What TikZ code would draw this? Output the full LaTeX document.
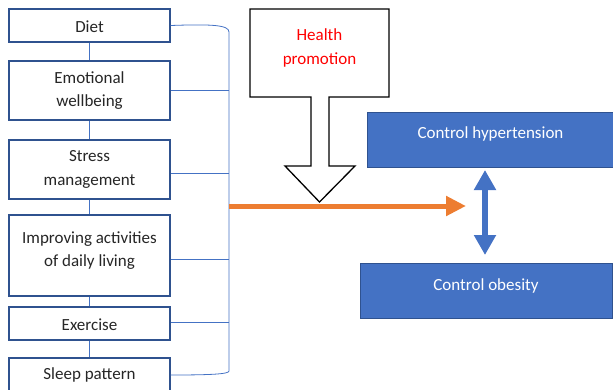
\documentclass[tikz,border=0pt]{standalone}
\usepackage{fontspec}
\setmainfont{Carlito}
\usetikzlibrary{arrows.meta}
\definecolor{bdr}{HTML}{2F528F}
\definecolor{lblue}{HTML}{4472C4}
\definecolor{orng}{HTML}{ED7D31}
\definecolor{txt}{HTML}{262626}
\tikzset{
  leftbox/.style={draw=bdr, line width=1.4pt, fill=white, minimum width=161pt, text=txt, align=center, inner sep=0pt, font=\fontsize{17}{23.5}\selectfont},
  lefttext/.style={text=txt, align=center, inner sep=0pt, font=\fontsize{17}{23.5}\selectfont},
  bluebox/.style={draw=bdr, line width=0.8pt, fill=lblue, inner sep=0pt},
  bluetext/.style={text=white, inner sep=0pt, font=\fontsize{17}{23}\selectfont},
  link/.style={draw=lblue, line width=0.8pt},
}
\begin{document}
\begin{tikzpicture}[x=1pt,y=-1pt]
\useasboundingbox (0,0) rectangle (613,389);
% left column
\node[leftbox, minimum height=33pt, label={[lefttext,yshift=-1.5pt]center:Diet}] (diet) at (89.5,25.5) {};
\node[leftbox, minimum height=59pt] (emo) at (89.5,90.5) {Emotional\\wellbeing};
\node[leftbox, minimum height=59pt] (stress) at (89.5,169.5) {Stress\\management};
\node[leftbox, minimum height=81pt, label={[lefttext,yshift=5pt]center:{Improving activities\\of daily living}}] (adl) at (89.5,255.5) {};
\node[leftbox, minimum height=33pt, label={[lefttext,yshift=-1.5pt]center:Exercise}] (ex) at (89.5,323.5) {};
\node[leftbox, minimum height=34pt] (sleep) at (89.5,375) {Sleep pattern};
% vertical links
\draw[link] (diet) -- (emo);
\draw[link] (emo) -- (stress);
\draw[link] (stress) -- (adl);
\draw[link] (adl) -- (ex);
\draw[link] (ex) -- (sleep);
% bracket
\coordinate (bt) at (229,32);
\coordinate (bb) at (229,371);
\draw[link] (diet.east) .. controls (212,24) and (229,25) .. (bt) -- (bb) .. controls (229,374) and (212,375) .. (sleep.east);
\draw[link] (emo.east) -- (emo.east -| bt);
\draw[link] ([yshift=-4pt]stress.east) -- ([yshift=-4pt]stress.east -| bt);
\draw[link] ([yshift=-4pt]adl.east) -- ([yshift=-4pt]adl.east -| bt);
\draw[link] ([yshift=1pt]ex.east) -- ([yshift=1pt]ex.east -| bt);
% health promotion block arrow
\coordinate (hp1) at (250,9);
\coordinate (hp2) at (389,9);
\coordinate (hp3) at (389,97);
\coordinate (hp4) at (329,97);
\coordinate (hp5) at (329,166);
\coordinate (hp6) at (355,166);
\coordinate (tip) at (319.5,202);
\coordinate (hp8) at (285,166);
\coordinate (hp9) at (311,166);
\coordinate (hp10) at (311,97);
\coordinate (hp11) at (250,97);
\draw[black, line width=1.3pt, fill=white, line join=miter] (hp1) -- (hp2) -- (hp3) -- (hp4) -- (hp5) -- (hp6) -- (tip) -- (hp8) -- (hp9) -- (hp10) -- (hp11) -- cycle;
\node[text=red, align=center, font=\fontsize{17}{24}\selectfont] (hptext) at (319.5,48) {Health\\promotion};
% orange arrow
\coordinate (ostart) at (229,206);
\coordinate (oend) at (466,206);
\draw[orng, line width=5pt, -{Triangle[length=20pt,width=19pt]}] (ostart) -- (oend);
% blue boxes
\node[bluebox, minimum width=247pt, minimum height=55pt, label={[bluetext,yshift=6pt]center:Control hypertension}] (hyp) at (490.5,139.5) {};
\node[bluebox, minimum width=252pt, minimum height=55pt, label={[bluetext,yshift=4.5pt]center:Control obesity}] (obe) at (486,290.5) {};
% double arrow
\coordinate (dtop) at (485,170);
\coordinate (dbot) at (485,255);
\draw[lblue, line width=6pt, {Triangle[length=20pt,width=21pt]}-{Triangle[length=20pt,width=21pt]}] (dtop) -- (dbot);
\end{tikzpicture}
\end{document}
